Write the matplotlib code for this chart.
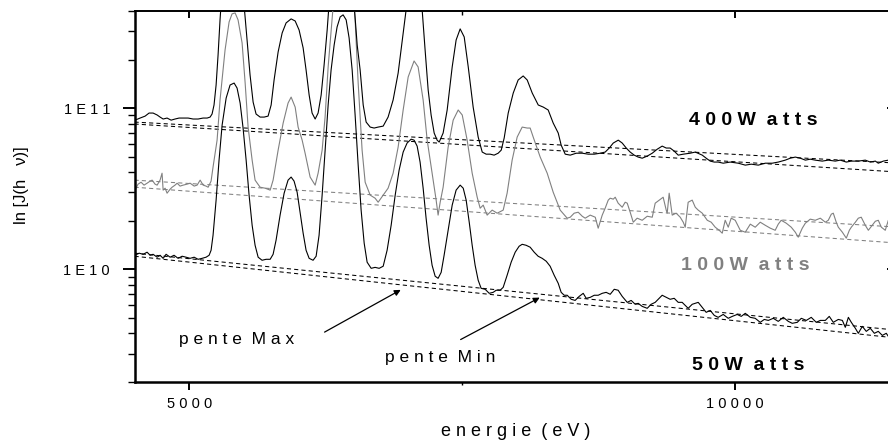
import matplotlib
matplotlib.use('Agg')
import matplotlib.pyplot as plt
import numpy as np
from matplotlib.ticker import FixedLocator, FixedFormatter, NullFormatter, LogLocator

plt.rcParams['font.family'] = ['Liberation Sans', 'DejaVu Sans']


# Spectres : énergie (eV) et log10 de J(hv)
energy_400 = [4505, 4551, 4597, 4633, 4670, 4707, 4734, 4762, 4798, 4835,
              4871, 4908, 4945, 4991, 5036, 5082, 5128, 5165, 5192, 5210,
              5228, 5247, 5265, 5283, 5311, 5348, 5393, 5430, 5467, 5503, 5531, 5558, 5586, 5613, 5650, 5687, 5723,
              5751, 5778, 5815, 5852, 5888, 5934, 5971, 6007, 6044, 6071, 6099, 6126, 6154,
              6181, 6209, 6236, 6264, 6291, 6328, 6374, 6410, 6447, 6484, 6511, 6539, 6566, 6594, 6621, 6658, 6694, 6731, 6777,
              6822, 6868, 6914, 6960, 6987, 7015, 7051, 7088, 7115, 7134, 7161, 7189, 7216, 7244, 7271, 7290,
              7326, 7363, 7409, 7445, 7482, 7519, 7556, 7601, 7647, 7684, 7720, 7757, 7793, 7830, 7858, 7885,
              7922, 7968, 8013, 8059, 8096, 8142, 8197, 8243, 8288, 8334, 8380, 8407, 8444,
              8490, 8545, 8600, 8655, 8710, 8765, 8810, 8847, 8884, 8930,
              8966, 9003, 9039, 9076, 9112, 9149, 9195, 9241, 9287, 9332,
              9369, 9405, 9442, 9479, 9525, 9589, 9635, 9699, 9735, 9772,
              9809, 9845, 9891, 9955, 10029, 10093, 10148, 10212, 10276, 10340,
              10395, 10459, 10505, 10551, 10597, 10643, 10688, 10734, 10798, 10853,
              10917, 10963, 11018, 11064, 11128, 11192, 11238, 11284, 11311, 11357,
              11403, 11467]
logj_400 = [10.925, 10.938, 10.950, 10.969, 10.969, 10.957, 10.944, 10.932, 10.938, 10.925,
            10.932, 10.938, 10.938, 10.938, 10.932, 10.932, 10.938, 10.938, 10.944, 10.963,
            11.019, 11.143, 11.329, 11.547, 11.826, 11.981, 12.043, 12.012, 11.857, 11.640, 11.422, 11.205, 11.037, 10.963, 10.944, 10.944, 10.950,
            11.019, 11.174, 11.348, 11.466, 11.528, 11.553, 11.540, 11.484, 11.373, 11.236, 11.081, 10.969, 10.932,
            10.969, 11.081, 11.267, 11.484, 11.733, 12.105, 12.416, 12.540, 12.416, 11.981, 11.640, 11.391, 11.236, 11.019, 10.913, 10.882, 10.876, 10.882, 10.888,
            10.944, 11.050, 11.217, 11.466, 11.609, 11.857, 11.981, 11.888, 11.702, 11.609, 11.360, 11.112, 10.957, 10.845, 10.801, 10.789,
            10.845, 10.988, 11.255, 11.422, 11.491, 11.441, 11.255, 11.006, 10.820, 10.727, 10.714, 10.714, 10.708, 10.720, 10.739, 10.814,
            10.969, 11.093, 11.174, 11.199, 11.174, 11.093, 11.019, 11.006, 10.988, 10.907, 10.845, 10.770, 10.714,
            10.708, 10.720, 10.720, 10.714, 10.714, 10.720, 10.727, 10.752, 10.783, 10.801,
            10.783, 10.752, 10.727, 10.708, 10.696, 10.689, 10.702, 10.720, 10.745, 10.764,
            10.752, 10.752, 10.733, 10.708, 10.714, 10.720, 10.727, 10.708, 10.689, 10.671,
            10.665, 10.665, 10.658, 10.665, 10.658, 10.646, 10.652, 10.646, 10.658, 10.658,
            10.665, 10.677, 10.689, 10.696, 10.689, 10.677, 10.683, 10.677, 10.671, 10.677,
            10.671, 10.677, 10.665, 10.671, 10.671, 10.677, 10.665, 10.671, 10.658, 10.671,
            10.677, 10.671]

energy_100 = [4505, 4532, 4560, 4587, 4615, 4643, 4661, 4688, 4707, 4734,
              4752, 4762, 4780, 4798, 4826, 4844, 4871, 4890, 4917, 4945,
              4981, 5009, 5046, 5073, 5101, 5128, 5155, 5174, 5201,
              5219, 5256, 5283, 5329, 5366, 5393, 5421, 5448, 5485, 5513, 5540, 5577, 5604, 5650, 5696, 5742,
              5769, 5815, 5861, 5906, 5934, 5971, 5998, 6035, 6062, 6108, 6154,
              6181, 6218, 6245, 6273, 6309, 6346, 6383, 6419, 6456, 6493,
              6520, 6548, 6584, 6612, 6658, 6703, 6731, 6777, 6822, 6868,
              6914, 6960, 7006, 7060, 7097, 7143, 7180, 7225, 7262, 7280, 7299, 7326,
              7372, 7418, 7464, 7501, 7546, 7592, 7638, 7665, 7693, 7729, 7775, 7821, 7876, 7912,
              7958, 8004, 8050, 8096, 8123, 8151, 8215, 8279, 8334, 8398,
              8462, 8490, 8526, 8563, 8600, 8627, 8673, 8719, 8746, 8783,
              8810, 8838, 8856, 8884, 8902, 8929, 8966, 8993, 9012, 9039,
              9067, 9103, 9149, 9195, 9241, 9268, 9305, 9341, 9369, 9378,
              9396, 9424, 9460, 9497, 9525, 9543, 9570, 9607, 9635, 9662,
              9699, 9745, 9781, 9818, 9854, 9882, 9909, 9937, 9964, 10001,
              10047, 10093, 10139, 10184, 10230, 10276, 10322, 10367, 10395, 10422,
              10468, 10514, 10551, 10578, 10615, 10643, 10688, 10734, 10780, 10826,
              10853, 10881, 10899, 10926, 10945, 10982, 11018, 11046, 11064, 11101,
              11128, 11155, 11192, 11220, 11256, 11284, 11311, 11339, 11375, 11403,
              11449]
logj_100 = [10.491, 10.528, 10.540, 10.522, 10.534, 10.547, 10.553, 10.528, 10.522, 10.553,
            10.596, 10.491, 10.503, 10.472, 10.497, 10.509, 10.522, 10.534, 10.516, 10.522,
            10.528, 10.534, 10.516, 10.522, 10.553, 10.522, 10.516, 10.509, 10.547,
            10.634, 10.801, 11.050, 11.360, 11.534, 11.584, 11.590, 11.547, 11.404, 11.155, 10.882, 10.677, 10.553, 10.509, 10.503, 10.491,
            10.553, 10.739, 10.907, 11.031, 11.068, 11.006, 10.882, 10.801, 10.720, 10.572, 10.522,
            10.596, 10.739, 10.944, 11.255, 11.547, 11.857, 12.105, 12.167, 12.043, 11.795,
            11.547, 11.155, 10.739, 10.540, 10.460, 10.441, 10.416, 10.460, 10.503, 10.596,
            10.758, 10.988, 11.193, 11.292, 11.255, 11.050, 10.801, 10.596, 10.429, 10.336, 10.416, 10.509,
            10.758, 10.925, 10.988, 10.957, 10.801, 10.596, 10.447, 10.379, 10.398, 10.336, 10.367, 10.348, 10.367, 10.472,
            10.677, 10.820, 10.882, 10.876, 10.876, 10.820, 10.696, 10.596, 10.478, 10.367,
            10.317, 10.323, 10.348, 10.354, 10.329, 10.317, 10.336, 10.323, 10.255, 10.336,
            10.379, 10.429, 10.441, 10.435, 10.447, 10.410, 10.385, 10.416, 10.410, 10.354,
            10.292, 10.317, 10.304, 10.329, 10.323, 10.410, 10.429, 10.447, 10.367, 10.348,
            10.472, 10.336, 10.348, 10.323, 10.292, 10.261, 10.416, 10.429, 10.385, 10.367,
            10.348, 10.304, 10.292, 10.261, 10.242, 10.224, 10.304, 10.261, 10.317, 10.304,
            10.242, 10.230, 10.280, 10.261, 10.292, 10.273, 10.255, 10.242, 10.280, 10.304,
            10.286, 10.261, 10.230, 10.199, 10.255, 10.286, 10.311, 10.304, 10.317, 10.292,
            10.304, 10.342, 10.348, 10.292, 10.261, 10.230, 10.193, 10.242, 10.261, 10.292,
            10.317, 10.323, 10.273, 10.242, 10.273, 10.298, 10.304, 10.261, 10.242, 10.304,
            10.273]

energy_50 = [4505, 4542, 4579, 4615, 4643, 4670, 4707, 4734, 4762, 4789,
             4826, 4862, 4899, 4936, 4972, 5009, 5046, 5082, 5119, 5155, 5183, 5201,
             5219, 5247, 5274, 5302, 5339, 5375, 5412, 5439, 5467, 5494, 5522, 5549, 5577, 5604, 5632, 5668, 5705, 5742, 5769,
             5796, 5833, 5870, 5906, 5934, 5961, 5989, 6016, 6044, 6071, 6099, 6135, 6163,
             6190, 6218, 6245, 6273, 6300, 6328, 6355, 6383, 6410, 6438, 6465, 6493, 6520, 6548, 6575, 6603, 6630, 6667, 6703, 6740, 6777,
             6813, 6850, 6887, 6923, 6960, 6996, 7033, 7060, 7088, 7115, 7143, 7170, 7198, 7225, 7253, 7280, 7308,
             7335, 7372, 7409, 7445, 7482, 7510, 7537, 7565, 7592, 7619, 7647, 7674, 7711, 7748, 7784, 7812, 7848, 7876,
             7912, 7949, 7986, 8022, 8050, 8086, 8123, 8160, 8196, 8233, 8270, 8306, 8343, 8380, 8407, 8435,
             8462, 8499, 8535, 8572, 8609, 8636, 8673, 8710, 8746, 8783,
             8819, 8856, 8893, 8929, 8966, 9012, 9048, 9085, 9112, 9149,
             9195, 9231, 9268, 9305, 9332, 9369, 9405, 9442, 9479, 9515,
             9552, 9570, 9607, 9662, 9699, 9735, 9772, 9809, 9845, 9891,
             9937, 9974, 10019, 10056, 10093, 10139, 10184, 10230, 10267, 10304,
             10349, 10395, 10441, 10487, 10523, 10569, 10606, 10652, 10697, 10743,
             10780, 10826, 10862, 10899, 10945, 10982, 11009, 11037, 11064, 11101,
             11128, 11165, 11201, 11238, 11275, 11311, 11348, 11384, 11403, 11467]
logj_50 = [10.087, 10.100, 10.093, 10.106, 10.087, 10.093, 10.075, 10.087, 10.068, 10.093,
           10.075, 10.087, 10.068, 10.081, 10.075, 10.068, 10.075, 10.062, 10.068, 10.075, 10.087, 10.118,
           10.211, 10.429, 10.677, 10.894, 11.062, 11.143, 11.155, 11.124, 11.031, 10.876, 10.677, 10.460, 10.273, 10.149, 10.075, 10.056, 10.062, 10.062, 10.093,
           10.180, 10.336, 10.472, 10.553, 10.572, 10.547, 10.478, 10.354, 10.224, 10.118, 10.068, 10.056, 10.081,
           10.211, 10.460, 10.739, 11.019, 11.236, 11.391, 11.503, 11.565, 11.578, 11.547, 11.435, 11.236, 10.957, 10.646, 10.367, 10.162, 10.044, 10.006, 10.012, 10.006, 10.019,
           10.118, 10.273, 10.460, 10.615, 10.727, 10.783, 10.807, 10.801, 10.764, 10.665, 10.503, 10.317, 10.149, 10.025, 9.957, 9.944, 9.981,
           10.087, 10.242, 10.398, 10.491, 10.522, 10.503, 10.429, 10.292, 10.149, 10.025, 9.932, 9.882, 9.876, 9.851, 9.857, 9.870, 9.870, 9.888,
           9.963, 10.044, 10.106, 10.143, 10.155, 10.149, 10.137, 10.106, 10.081, 10.068, 10.050, 10.019, 9.963, 9.913, 9.857, 9.839,
           9.839, 9.814, 9.807, 9.832, 9.851, 9.820, 9.826, 9.839, 9.839, 9.851,
           9.857, 9.845, 9.876, 9.870, 9.832, 9.795, 9.807, 9.783, 9.789, 9.770,
           9.758, 9.783, 9.795, 9.820, 9.839, 9.826, 9.814, 9.820, 9.795, 9.795,
           9.770, 9.758, 9.783, 9.795, 9.764, 9.733, 9.745, 9.714, 9.702, 9.720,
           9.696, 9.708, 9.720, 9.708, 9.727, 9.702, 9.696, 9.671, 9.689, 9.683,
           9.696, 9.677, 9.702, 9.677, 9.665, 9.671, 9.696, 9.683, 9.702, 9.671,
           9.683, 9.683, 9.708, 9.671, 9.689, 9.683, 9.640, 9.702, 9.671, 9.634,
           9.603, 9.646, 9.615, 9.634, 9.603, 9.615, 9.590, 9.603, 9.584, 9.596]

# Droites de fond (pente min / pente max), log10 J aux deux bouts
base_energy = [4500, 11500]
base_400_min = [10.913, 10.658]
base_400_max = [10.901, 10.603]
base_100_min = [10.553, 10.261]
base_100_max = [10.509, 10.162]
base_50_min = [10.100, 9.621]
base_50_max = [10.081, 9.572]

x_ticks = [5000, 10000]
x_tick_labels = ['5 0 0 0', '1 0 0 0 0']
y_ticks = [1e10, 1e11]
y_tick_labels = ['1 E 1 0', '1 E 1 1']

gray = '#808080'

fig = plt.figure(figsize=(8.88, 4.41), dpi=100)
ax = fig.add_axes([0.1515, 0.1338, 0.8608, 0.8413])
ax.set_yscale('log')
ax.set_xlim(4500, 11500)
ax.set_ylim(2e9, 4e11)

# droites de fond en pointillés
dash = (0, (4, 3))
for lo, hi, col in [(base_400_min, base_400_max, 'black'),
                    (base_100_min, base_100_max, gray),
                    (base_50_min, base_50_max, 'black')]:
    ax.plot(base_energy, 10 ** np.array(lo), color=col, lw=0.75, linestyle=dash)
    ax.plot(base_energy, 10 ** np.array(hi), color=col, lw=0.75, linestyle=dash)

# spectres
ax.plot(energy_100, 10 ** np.array(logj_100), color=gray, lw=0.8)
ax.plot(energy_400, 10 ** np.array(logj_400), color='black', lw=0.8)
ax.plot(energy_50, 10 ** np.array(logj_50), color='black', lw=0.8)

# axes et graduations
ax.spines['top'].set_visible(False)
ax.spines['right'].set_visible(False)
ax.spines['left'].set_linewidth(1.8)
ax.spines['bottom'].set_linewidth(1.8)

ax.xaxis.set_major_locator(FixedLocator(x_ticks))
ax.xaxis.set_major_formatter(FixedFormatter(x_tick_labels))
ax.xaxis.set_minor_locator(FixedLocator([7500]))
ax.tick_params(axis='x', which='major', direction='out', length=5.8, width=1.4, pad=5, labelsize=10.5)
ax.tick_params(axis='x', which='minor', direction='out', length=2.5, width=1.0)

ax.yaxis.set_major_locator(FixedLocator(y_ticks))
ax.yaxis.set_major_formatter(FixedFormatter(y_tick_labels))
ax.yaxis.set_minor_locator(LogLocator(base=10, subs=(2, 3, 4, 5, 6, 7, 8, 9)))
ax.yaxis.set_minor_formatter(NullFormatter())
ax.tick_params(axis='y', which='major', direction='out', length=8.6, width=1.4, pad=9, labelsize=10.5)
ax.tick_params(axis='y', which='minor', direction='out', length=5, width=1.0)

top = ax.secondary_xaxis('top')
top.set_xticks(x_ticks)
top.xaxis.set_minor_locator(FixedLocator([7500]))
top.tick_params(axis='x', which='major', direction='in', length=5, width=1.4, labeltop=False)
top.tick_params(axis='x', which='minor', direction='in', length=3, width=1.0, labeltop=False)
top.spines['top'].set_linewidth(1.4)

right = ax.secondary_yaxis('right')
right.set_yticks(y_ticks)
right.tick_params(axis='y', which='major', direction='in', length=8.6, width=1.4, labelright=False)
right.tick_params(axis='y', which='minor', direction='in', length=4, width=1.0, labelright=False)

# titres des axes
ax.set_xlabel('e n e r g i e  ( e V )', fontsize=13)
ax.xaxis.label.set_va('baseline')
ax.xaxis.set_label_coords(0.499, -0.1456)
ax.set_ylabel('ln [J(h   ν)]', fontsize=12)
ax.yaxis.set_label_coords(-0.138, 0.53)

# étiquettes des spectres
ax.text(0.809, 0.6927, '4 0 0 W  a t t s', transform=ax.transAxes, ha='center', va='baseline',
        fontsize=14, fontweight='bold', color='black')
ax.text(0.7987, 0.3019, '1 0 0 W  a t t s', transform=ax.transAxes, ha='center', va='baseline',
        fontsize=14, fontweight='bold', color=gray)
ax.text(0.8026, 0.0323, '5 0 W  a t t s', transform=ax.transAxes, ha='center', va='baseline',
        fontsize=14, fontweight='bold', color='black')

# flèches vers les droites de fond
ax.text(0.1334, 0.1024, 'p e n t e  M a x', transform=ax.transAxes, ha='center', va='baseline', fontsize=12.5)
ax.annotate('', xy=(6960, 7.6e9), xytext=(6218, 4.0e9),
            arrowprops=dict(arrowstyle='-|>', color='black', lw=0.9, mutation_scale=9))
ax.text(0.4003, 0.0547, 'p e n t e  M i n', transform=ax.transAxes, ha='center', va='baseline', fontsize=12.5)
ax.annotate('', xy=(8233, 6.8e9), xytext=(7464, 3.6e9),
            arrowprops=dict(arrowstyle='-|>', color='black', lw=0.9, mutation_scale=9))

fig.savefig('out.png', dpi=100)
